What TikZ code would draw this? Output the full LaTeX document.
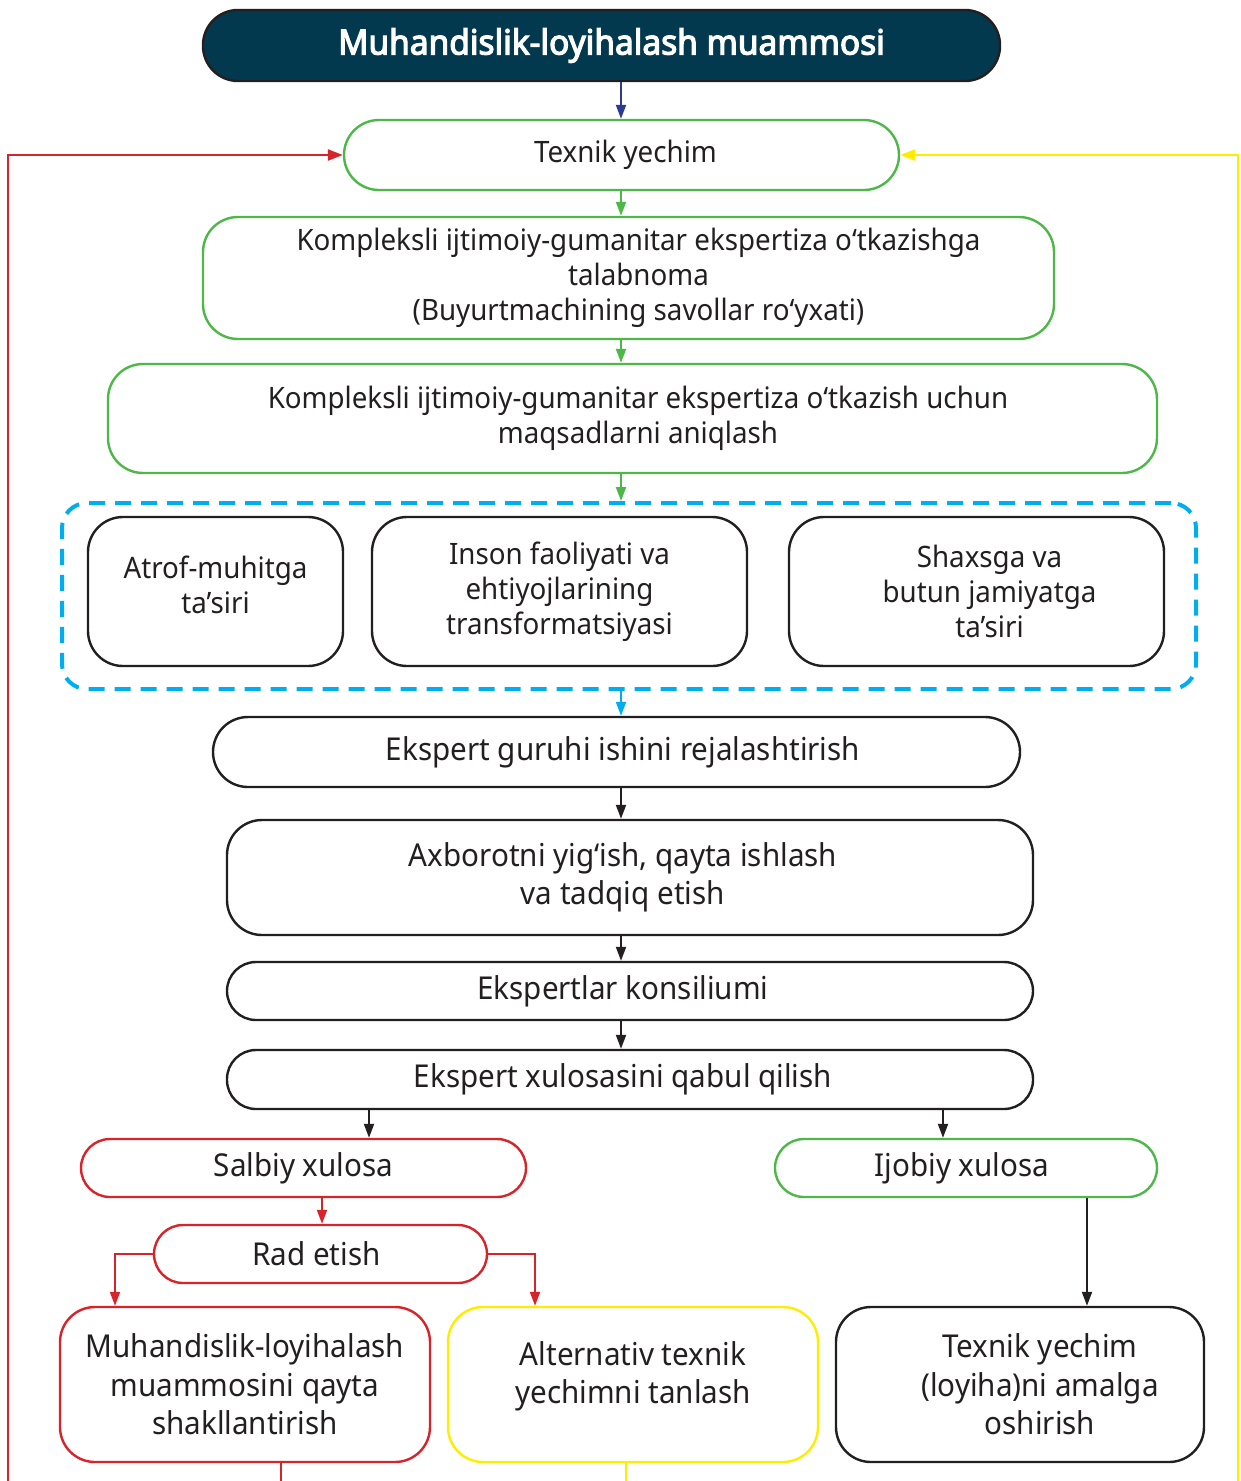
\documentclass[tikz,border=0pt]{standalone}
\usepackage{fontspec}
\setmainfont{Noto Sans}[FakeStretch=0.94]
\newfontfamily\titlefont{Noto Sans}[FakeStretch=0.97,FakeBold=3.5]
\usetikzlibrary{arrows.meta}
\definecolor{cgreen}{RGB}{77,184,72}
\definecolor{cred}{RGB}{215,35,42}
\definecolor{cyel}{RGB}{255,237,0}
\definecolor{ccyan}{RGB}{0,174,239}
\definecolor{cnavy}{RGB}{46,57,144}
\definecolor{ctitle}{RGB}{3,57,79}
\definecolor{cdark}{RGB}{35,31,32}
\tikzset{
  bx/.style={draw, rectangle, rounded corners=#1, line width=2.4pt, align=center, inner sep=0pt, text=cdark},
  small/.style={font=\fontsize{29.5}{35}\selectfont},
  big/.style={font=\fontsize{31.5}{38.5}\selectfont},
  arr/.style={line width=2pt, -{Triangle[length=14pt,width=10pt]}},
  loopline/.style={line width=2.4pt},
}
\begin{document}
\begin{tikzpicture}[x=1pt,y=-1pt]
\useasboundingbox (0,0) rectangle (1240,1481);
\coordinate (ax) at (621,0);

% title
\node[bx=35, draw=cdark, fill=ctitle, text=white, minimum width=797pt, minimum height=71pt,
  font=\titlefont\fontsize{34.5}{38}\selectfont] (title) at (601.5,45.5) {\hspace*{20pt}Muhandislik-loyihalash muammosi};

% upper green boxes
\node[bx=35, small, draw=cgreen, minimum width=555pt, minimum height=70pt] (tex) at (621.5,155) {\hspace*{8pt}Texnik yechim};
\node[bx=35, small, draw=cgreen, minimum width=851pt, minimum height=122pt] (req) at (628.5,278) {\hspace*{20pt}Kompleksli ijtimoiy-gumanitar ekspertiza o‘tkazishga\\\hspace*{20pt}talabnoma\\\hspace*{20pt}(Buyurtmachining savollar ro‘yxati)};
\node[bx=35, small, draw=cgreen, minimum width=1049pt, minimum height=109pt] (goal) at (632.5,418.5) {\hspace*{11pt}Kompleksli ijtimoiy-gumanitar ekspertiza o‘tkazish uchun\\\hspace*{11pt}maqsadlarni aniqlash};

% dashed group
\node[draw=ccyan, line width=4pt, dash pattern=on 16pt off 10pt, rounded corners=25pt, rectangle, minimum width=1134pt, minimum height=186pt, inner sep=0pt] (grp) at (629,596) {};
\node[bx=35, small, draw=cdark, minimum width=255pt, minimum height=149pt, text depth=14pt] (atr) at (215.5,591.5) {Atrof-muhitga\\ta’siri};
\node[bx=35, small, draw=cdark, minimum width=375pt, minimum height=149pt] (ins) at (559.5,591.5) {Inson faoliyati va\\ehtiyojlarining\\transformatsiyasi};
\node[bx=35, small, draw=cdark, minimum width=375pt, minimum height=149pt] (shx) at (976.5,591.5) {\hspace*{26pt}Shaxsga va\\\hspace*{26pt}butun jamiyatga\\\hspace*{26pt}ta’siri};

% black process boxes
\node[bx=35, big, draw=cdark, minimum width=807pt, minimum height=70pt] (plan) at (616.5,752) {\hspace*{13pt}Ekspert guruhi ishini rejalashtirish};
\node[bx=35, big, draw=cdark, minimum width=806pt, minimum height=115pt] (info) at (630,877.5) {Axborotni yig‘ish, qayta ishlash\hspace*{14pt}\\va tadqiq etish\hspace*{14pt}};
\node[bx=29, big, draw=cdark, minimum width=806pt, minimum height=58pt] (kons) at (630,991) {Ekspertlar konsiliumi\hspace*{14pt}};
\node[bx=29, big, draw=cdark, minimum width=806pt, minimum height=59pt] (qab) at (630,1079.5) {Ekspert xulosasini qabul qilish\hspace*{14pt}};

% outcome boxes
\node[bx=29, big, draw=cred, minimum width=445pt, minimum height=58pt] (salb) at (303.5,1168) {Salbiy xulosa};
\node[bx=29, big, draw=cgreen, minimum width=382pt, minimum height=58pt] (ijob) at (966,1168) {Ijobiy xulosa\hspace*{8pt}};
\node[bx=29, big, draw=cred, minimum width=333pt, minimum height=58pt] (rad) at (320.5,1254) {Rad etish\hspace*{8pt}};

\node[bx=35, big, draw=cred, minimum width=370pt, minimum height=155pt] (muh) at (245,1384.5) {Muhandislik-loyihalash\\muammosini qayta\\shakllantirish};
\node[bx=35, big, draw=cyel, minimum width=370pt, minimum height=155pt, text depth=24pt] (alt) at (633,1384.5) {Alternativ texnik\\yechimni tanlash};
\node[bx=35, big, draw=cdark, minimum width=368pt, minimum height=155pt] (imp) at (1020,1384.5) {\hspace*{40pt}Texnik yechim\\\hspace*{40pt}(loyiha)ni amalga\\\hspace*{40pt}oshirish};

% connectors
\draw[arr, cnavy] (title.south -| ax) -- (tex.north -| ax);
\draw[arr, cgreen] (tex.south -| ax) -- (req.north -| ax);
\draw[arr, cgreen] (req.south -| ax) -- (goal.north -| ax);
\draw[arr, cgreen] (goal.south -| ax) -- (grp.north -| ax);
\draw[arr, ccyan] (grp.south -| ax) -- (plan.north -| ax);
\draw[arr, cdark] (plan.south -| ax) -- (info.north -| ax);
\draw[arr, cdark] (info.south -| ax) -- (kons.north -| ax);
\draw[arr, cdark] (kons.south -| ax) -- (qab.north -| ax);
\coordinate (sx) at (369,0);
\coordinate (ix) at (943,0);
\draw[arr, cdark] (qab.south -| sx) -- (salb.north -| sx);
\draw[arr, cdark] (qab.south -| ix) -- (ijob.north -| ix);
\coordinate (rx) at (322,0);
\draw[arr, cred] (salb.south -| rx) -- (rad.north -| rx);
\coordinate (mx) at (115,0);
\coordinate (lx) at (535,0);
\draw[arr, cred] (rad.west) -| (muh.north -| mx);
\draw[arr, cred] (rad.east) -| (alt.north -| lx);
\coordinate (px) at (1087,0);
\draw[arr, cdark] (ijob.south -| px) -- (imp.north -| px);

% feedback loops (run off the bottom edge)
\coordinate (redend) at (281,1481);
\coordinate (redstart) at (8,1481);
\coordinate (yelend) at (626,1481);
\coordinate (yelstart) at (1238,1481);
\draw[loopline, cred] (muh.south -| redend) -- (redend);
\draw[loopline, cred, -{Triangle[length=15pt,width=11pt]}] (redstart) |- (tex.west);
\draw[loopline, cyel] (alt.south -| yelend) -- (yelend);
\draw[loopline, cyel, -{Triangle[length=15pt,width=11pt]}] (yelstart) |- (tex.east);
\end{tikzpicture}
\end{document}
